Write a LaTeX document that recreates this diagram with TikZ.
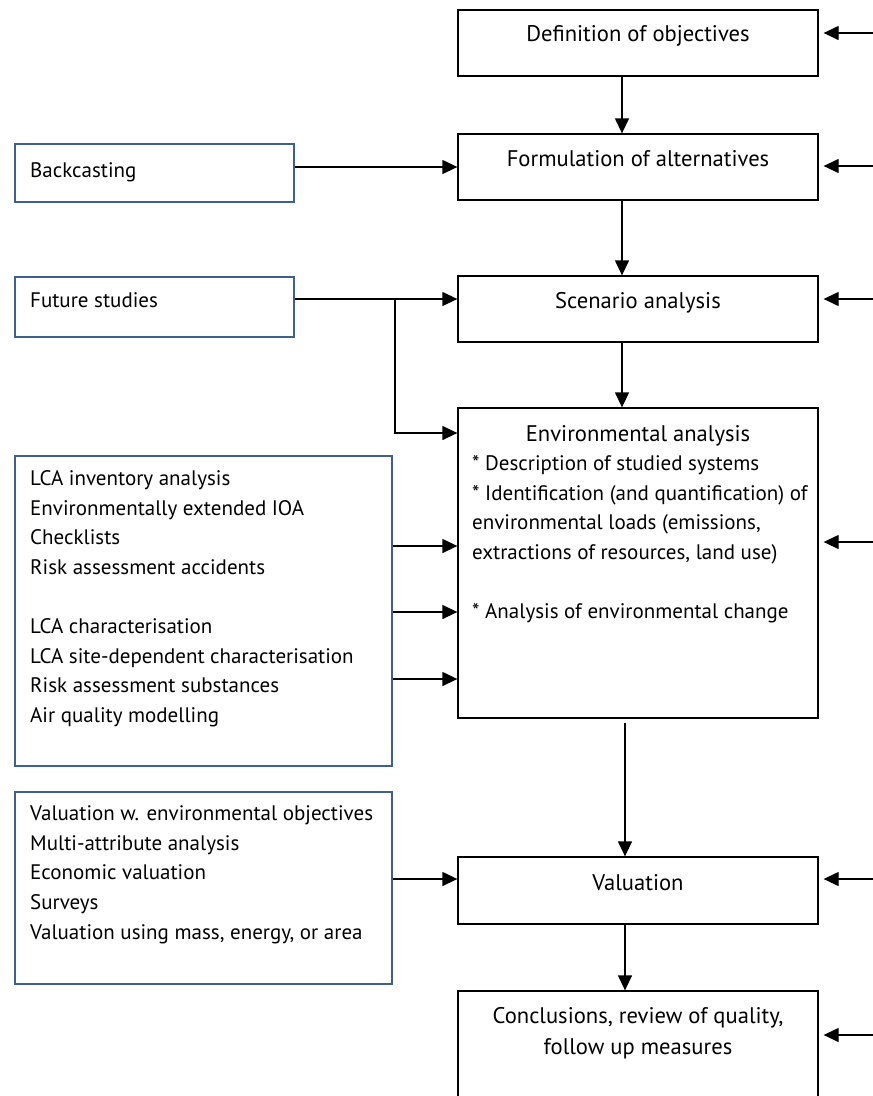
\documentclass[tikz,border=0pt]{standalone}
\usepackage{fontspec}
\setmainfont{PT Sans}
\usetikzlibrary{arrows.meta,calc}
\definecolor{boxblue}{RGB}{59,96,145}
\begin{document}
\begin{tikzpicture}[x=1pt,y=-1pt,
  mainbox/.style={draw=black,line width=1.3pt,rectangle,inner sep=0pt},
  sidebox/.style={draw=boxblue,line width=1.3pt,rectangle,inner sep=0pt},
  txt/.style={inner sep=0pt,font=\fontsize{21}{29.6}\selectfont},
  ttl/.style={inner sep=0pt,font=\fontsize{22.6}{31}\selectfont},
  arr/.style={line width=1.3pt,-{Triangle[length=15pt,width=14pt]}},
  ln/.style={line width=1.3pt}]
\useasboundingbox (0,0) rectangle (873,1096);
% main column
\node[mainbox,minimum width=360pt,minimum height=66pt] (def) at (638,43) {};
\node[mainbox,minimum width=360pt,minimum height=66pt] (form) at (638,167) {};
\node[mainbox,minimum width=360pt,minimum height=66pt] (scen) at (638,309) {};
\node[mainbox,minimum width=360pt,minimum height=310pt] (env) at (638,563) {};
\node[mainbox,minimum width=360pt,minimum height=67pt] (val) at (638,890.5) {};
\node[mainbox,minimum width=360pt,minimum height=130pt] (concl) at (638,1056) {};
% side boxes
\node[sidebox,minimum width=279pt,minimum height=58pt] (back) at (154.5,173) {};
\node[sidebox,minimum width=279pt,minimum height=60pt] (fut) at (154.5,307) {};
\node[sidebox,minimum width=377pt,minimum height=310pt] (lca) at (203.5,611) {};
\node[sidebox,minimum width=377pt,minimum height=192pt] (valL) at (203.5,888) {};
% texts
\node[ttl,anchor=base] (tdef) at (638,41) {Definition of objectives};
\node[ttl,anchor=base] (tform) at (638,166) {Formulation of alternatives};
\node[ttl,anchor=base] (tscen) at (638,308) {Scenario analysis};
\node[ttl,anchor=base] (tenv) at (638,441) {Environmental analysis};
\node[txt,anchor=north west,align=left] (tenvb) at (472,449.85) {\strut * Description of studied systems\\
* Identification (and quantification) of\\
environmental loads (emissions,\\
extractions of resources, land use)\\[29.6pt]
* Analysis of environmental change};
\node[ttl,anchor=base] (tval) at (638,890) {Valuation};
\node[ttl,anchor=north,align=center] (tconcl) at (638,1002) {\strut Conclusions, review of quality,\\ follow up measures};
\node[txt,anchor=base west] (tback) at (30,177.5) {Backcasting};
\node[txt,anchor=base west] (tfut) at (30,307.5) {Future studies};
\node[txt,anchor=north west,align=left] (tlca) at (30,464.85) {\strut LCA inventory analysis\\
Environmentally extended IOA\\
Checklists\\
Risk assessment accidents\\[29.6pt]
LCA characterisation\\
LCA site-dependent characterisation\\
Risk assessment substances\\
Air quality modelling};
\node[txt,anchor=north west,align=left] (tvalL) at (30,799.85) {\strut Valuation w. environmental objectives\\
Multi-attribute analysis\\
Economic valuation\\
Surveys\\
Valuation using mass, energy, or area};
% down arrows
\draw[arr] (def.south -| 622,0) -- (form.north -| 622,0);
\draw[arr] (form.south -| 622,0) -- (scen.north -| 622,0);
\draw[arr] (scen.south -| 622,0) -- (env.north -| 622,0);
\draw[arr] ([yshift=-4pt]env.south -| 625,0) -- (val.north -| 625,0);
\draw[arr] (val.south -| 625,0) -- (concl.north -| 625,0);
% right-side incoming arrows
\coordinate (r1) at (873,33);
\coordinate (r2) at (873,166);
\coordinate (r3) at (873,299);
\coordinate (r4) at (873,542);
\coordinate (r5) at (873,879);
\coordinate (r6) at (873,1035);
\draw[arr] (r1) -- ([xshift=5pt]r1 -| def.east);
\draw[arr] (r2) -- ([xshift=5pt]r2 -| form.east);
\draw[arr] (r3) -- ([xshift=5pt]r3 -| scen.east);
\draw[arr] (r4) -- ([xshift=5pt]r4 -| env.east);
\draw[arr] (r5) -- ([xshift=5pt]r5 -| val.east);
\draw[arr] (r6) -- ([xshift=5pt]r6 -| concl.east);
% left-side arrows
\coordinate (yb) at (0,167);
\draw[arr] (yb -| back.east) -- (yb -| form.west);
\coordinate (yf) at (0,299);
\coordinate (br) at (395,299);
\coordinate (yf2) at (0,433);
\draw[arr] (yf -| fut.east) -- (yf -| scen.west);
\draw[ln,-{Triangle[length=15pt,width=14pt]}] (br) -- (br |- yf2) -- (yf2 -| env.west);
\coordinate (l1) at (0,546);
\coordinate (l2) at (0,612);
\coordinate (l3) at (0,679);
\draw[arr] (l1 -| lca.east) -- (l1 -| env.west);
\draw[arr] (l2 -| lca.east) -- (l2 -| env.west);
\draw[arr] (l3 -| lca.east) -- (l3 -| env.west);
\coordinate (v1) at (0,879);
\draw[arr] (v1 -| valL.east) -- (v1 -| val.west);
\end{tikzpicture}
\end{document}
